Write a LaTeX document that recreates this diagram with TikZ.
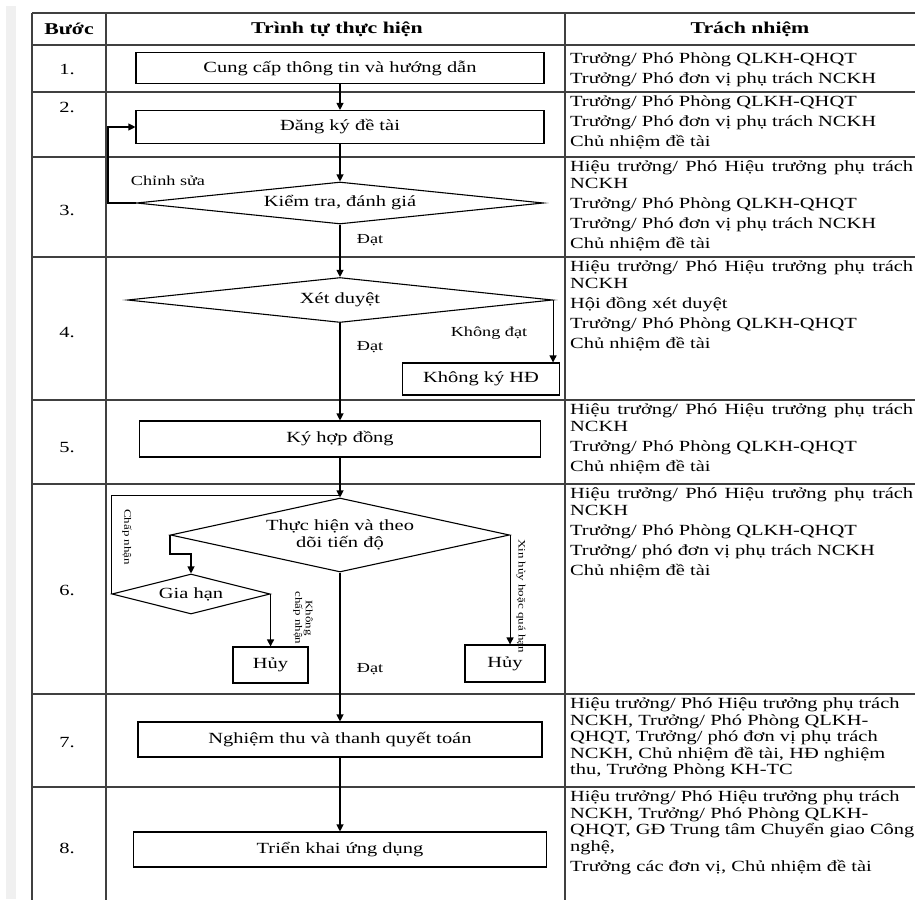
\documentclass[tikz,border=0pt]{standalone}
\usepackage{fontspec}
\setmainfont{Liberation Serif}[FakeStretch=1.32]
\usetikzlibrary{arrows.meta,positioning,shapes.geometric,calc}

\newcommand{\txt}{\fontsize{15.5}{16.5}\selectfont}
\newcommand{\hdr}{\fontsize{16.5}{19}\selectfont\bfseries}
\newcommand{\lbl}{\fontsize{13.8}{15}\selectfont}
\newcommand{\rot}{\fontsize{9.8}{10.5}\selectfont}

\begin{document}
\begin{tikzpicture}[x=1pt, y=-1pt, >={Triangle[width=7pt,length=7pt]},
  every node/.style={font=\txt},
  grid/.style={line width=1.6pt, draw=black!75},
  box/.style={draw, line width=1.1pt, rectangle, inner sep=0pt},
  dia/.style={draw, line width=1.1pt, diamond, inner sep=0pt},
  resp/.style={anchor=north west, text width=343pt, align=justify, inner sep=1pt,
    execute at begin node={\setlength{\parskip}{3.5pt}\setlength{\parindent}{0pt}}},
  flow/.style={->, line width=1.1pt}]
  \useasboundingbox (0,0) rectangle (915,899);
  \clip (0,0) rectangle (915,899);
  \fill[white] (0,0) rectangle (915,899);
  \fill[black!6] (6,6) rectangle (16,899);

  % table
  \foreach \y in {13,45,92,157,257,400,484,694,787}
    \draw[grid] (32,\y) -- (940,\y);
  \foreach \x in {32,106,565}
    \draw[grid] (\x,13) -- (\x,910);

  \node[font=\hdr] (hStep) at (69,29) {Bước};
  \node[font=\hdr] (hFlow) at (337,29) {Trình tự thực hiện};
  \node[font=\hdr] (hResp) at (750,29) {Trách nhiệm};
  \foreach \n/\y in {1/69,2/107,3/210,4/333,5/448,6/590,7/743,8/848}
    \node (n\n) at (67,\y) {\n.};

  % flow
  \node[box, minimum width=408pt, minimum height=31pt] (info) at (340,68) {Cung cấp thông tin và hướng dẫn};
  \node[box, minimum width=408pt, minimum height=33pt] (reg) at (340,127) {Đăng ký đề tài};
  \node[dia, aspect=9.7, minimum width=407pt, minimum height=42pt] (check) at (340,203) {Kiểm tra, đánh giá};
  \node[dia, aspect=9.4, minimum width=425pt, minimum height=45pt] (review) at (340,300) {Xét duyệt};
  \node[box, minimum width=157pt, minimum height=32pt] (nosign) at (481,379) {Không ký HĐ};
  \node[box, minimum width=401pt, minimum height=36pt] (sign) at (340,439) {Ký hợp đồng};
  \node[dia, aspect=4.6, minimum width=339pt, minimum height=74pt, align=center] (track) at (340,535) {Thực hiện và theo\\dõi tiến độ};
  \node[dia, aspect=4, minimum width=158pt, minimum height=40pt] (extend) at (191,594) {Gia hạn};
  \node[box, minimum width=75pt, minimum height=36pt] (cancelA) at (270.5,665) {Hủy};
  \node[box, minimum width=80pt, minimum height=37pt] (cancelB) at (505,663.5) {Hủy};
  \node[box, minimum width=404pt, minimum height=35pt] (accept) at (340,739.5) {Nghiệm thu và thanh quyết toán};
  \node[box, minimum width=413pt, minimum height=35pt] (deploy) at (340,849.5) {Triển khai ứng dụng};

  \draw[flow] (info) -- (reg);
  \draw[flow] (reg) -- (check);
  \draw[flow] (check.west) -- ++(-28,0) |- (reg.west);
  \draw[flow] (check) -- (review);
  \draw[flow] (review.east) -- (review.east |- nosign.north);
  \draw[flow] (review) -- (sign);
  \draw[flow] (sign) -- (track);
  \draw[flow] (track.west) -- ++(0,19) -| (extend.north);
  \draw[line width=1.1pt] (extend.west) |- ($(track.north)+(0,-2)$);
  \draw[flow] (extend.east) -- (extend.east |- cancelA.north);
  \draw[flow] (track.east) -- (track.east |- cancelB.north);
  \draw[flow] (track) -- (accept);
  \draw[flow] (accept) -- (deploy);

  \node[font=\lbl] (fixLbl) at (168,181) {Chỉnh sửa};
  \node[font=\lbl] (passA) at (370,240) {Đạt};
  \node[font=\lbl] (failLbl) at (489,333) {Không đạt};
  \node[font=\lbl] (passB) at (370,347) {Đạt};
  \node[font=\rot, rotate=-90] (okLbl) at (127,537) {Chấp nhận};
  \node[font=\rot, rotate=-90, align=center] (noLbl) at (303,618) {Không\\chấp nhận};
  \node[font=\rot, rotate=-90] (quitLbl) at (521,596) {Xin hủy hoặc quá hạn};
  \node[font=\lbl] (passC) at (370,669) {Đạt};

  % responsibilities
  \node[resp] (r1) at (569,52) {Trưởng/ Phó Phòng QLKH-QHQT\par Trưởng/ Phó đơn vị phụ trách NCKH};
  \node[resp] (r2) at (569,95) {Trưởng/ Phó Phòng QLKH-QHQT\par Trưởng/ Phó đơn vị phụ trách NCKH\par Chủ nhiệm đề tài};
  \node[resp] (r3) at (569,160) {Hiệu trưởng/ Phó Hiệu trưởng phụ trách NCKH\par Trưởng/ Phó Phòng QLKH-QHQT\par Trưởng/ Phó đơn vị phụ trách NCKH\par Chủ nhiệm đề tài};
  \node[resp] (r4) at (569,260) {Hiệu trưởng/ Phó Hiệu trưởng phụ trách NCKH\par Hội đồng xét duyệt\par Trưởng/ Phó Phòng QLKH-QHQT\par Chủ nhiệm đề tài};
  \node[resp] (r5) at (569,403) {Hiệu trưởng/ Phó Hiệu trưởng phụ trách NCKH\par Trưởng/ Phó Phòng QLKH-QHQT\par Chủ nhiệm đề tài};
  \node[resp] (r6) at (569,487) {Hiệu trưởng/ Phó Hiệu trưởng phụ trách NCKH\par Trưởng/ Phó Phòng QLKH-QHQT\par Trưởng/ phó đơn vị phụ trách NCKH\par Chủ nhiệm đề tài};
  \node[resp, align=left, text width=380pt] (r7) at (569,697) {Hiệu trưởng/ Phó Hiệu trưởng phụ trách\\NCKH, Trưởng/ Phó Phòng QLKH-\\QHQT, Trưởng/ phó đơn vị phụ trách\\NCKH, Chủ nhiệm đề tài, HĐ nghiệm\\thu, Trưởng Phòng KH-TC};
  \node[resp, align=left, text width=380pt] (r8) at (569,790) {Hiệu trưởng/ Phó Hiệu trưởng phụ trách\\NCKH, Trưởng/ Phó Phòng QLKH-\\QHQT, GĐ Trung tâm Chuyển giao Công\\nghệ,\\[4pt]Trưởng các đơn vị, Chủ nhiệm đề tài};
\end{tikzpicture}
\end{document}
